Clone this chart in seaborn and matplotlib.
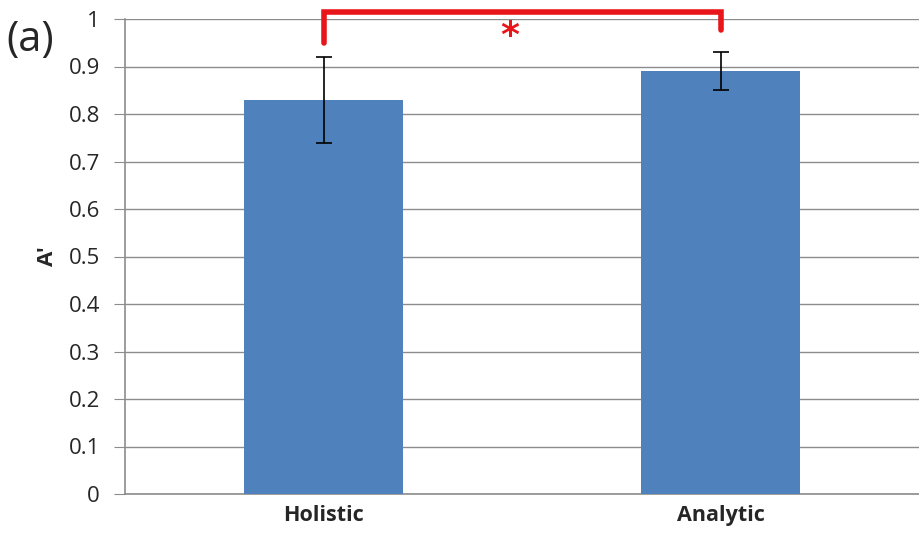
import matplotlib.pyplot as plt
import seaborn as sns
import pandas as pd

conditions = ['Holistic', 'Analytic']
a_prime = [0.83, 0.89]
err_low = [0.74, 0.85]
err_high = [0.92, 0.93]

df = pd.DataFrame({'condition': conditions, 'A': a_prime})

sns.set_style('white')
plt.rcParams['font.family'] = ['Open Sans', 'DejaVu Sans']

fig = plt.figure(figsize=(9.19, 5.33), dpi=100)
ax = fig.add_axes([125 / 919, 39 / 533, 794 / 919, 475 / 533])

sns.barplot(data=df, x='condition', y='A', color='#4F81BD', saturation=1,
            width=0.4, ax=ax, zorder=3, linewidth=0)

# error bars
for i in range(len(conditions)):
    ax.errorbar(i, a_prime[i],
                yerr=[[a_prime[i] - err_low[i]], [err_high[i] - a_prime[i]]],
                fmt='none', ecolor='black', elinewidth=1.2, capsize=6,
                capthick=1.2, zorder=4)

ax.set_xlim(-0.5, 1.5)
ax.set_ylim(0, 1)
ax.set_yticks([i / 10 for i in range(11)])
ax.set_yticklabels(['0', '0.1', '0.2', '0.3', '0.4', '0.5', '0.6', '0.7', '0.8', '0.9', '1'])
ax.yaxis.grid(True, color='#8c8c8c', linewidth=1)
ax.set_axisbelow(True)
for s in ['top', 'right']:
    ax.spines[s].set_visible(False)
for s in ['left', 'bottom']:
    ax.spines[s].set_color('#8c8c8c')
    ax.spines[s].set_linewidth(1.2)
ax.tick_params(axis='y', which='both', left=True, length=8, color='#8c8c8c',
               labelsize=16, pad=10)
ax.tick_params(axis='x', length=0, labelsize=15.5, pad=8)
for lab in ax.get_xticklabels():
    lab.set_fontweight('bold')
ax.set_xlabel('')
ax.set_ylabel("A'", fontsize=16, fontweight='bold', labelpad=8)

# significance bracket
ax.plot([0, 0, 1, 1], [0.95, 1.015, 1.015, 0.977], color='#E8161B',
        linewidth=4, clip_on=False, zorder=5, solid_joinstyle='miter')
ax.text(0.47, 1.0, '*', color='#E8161B', fontsize=26, ha='center', va='top',
        family='DejaVu Sans', fontweight='bold')

fig.text(6 / 919, 1 - 40 / 533, '(a)', fontsize=30, va='center', ha='left')

fig.savefig('out.png', dpi=100)
